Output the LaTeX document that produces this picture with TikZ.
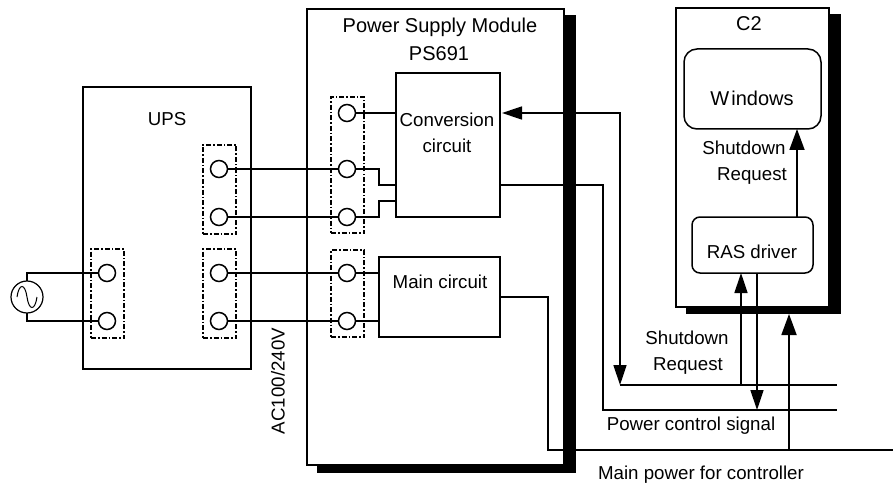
\documentclass[tikz,border=0pt]{standalone}
\usepackage{fontspec}
\setmainfont{Liberation Sans}
\usetikzlibrary{arrows.meta}
\tikzset{
    boxnode/.style={anchor=north west,draw,fill=white,line width=1.5pt,inner sep=0pt,outer sep=0pt},
    roundnode/.style={boxnode,rounded corners=#1},
    shadownode/.style={anchor=north west,fill=black,inner sep=0pt,outer sep=0pt},
    termnode/.style={circle,draw,line width=1.5pt,minimum size=17pt,inner sep=0pt,outer sep=0pt},
    blocknode/.style={anchor=north west,draw,dash pattern=on 5pt off 2pt on 1.5pt off 2pt,line width=1.4pt,inner sep=0pt,outer sep=0pt},
    txt/.style={inner sep=0pt,font=\fontsize{18.7}{20}\selectfont},
    bigtxt/.style={inner sep=0pt,font=\fontsize{20}{22}\selectfont},
    wire/.style={line width=1.5pt},
    powerwire/.style={line width=2.1pt},
    headline/.style={line width=1.8pt,-{Triangle[length=21pt,width=15pt]}},
}
\begin{document}
\begin{tikzpicture}[x=1pt,y=-1pt]
    \useasboundingbox (0,0) rectangle (893,489);
    %% shadows
    \node[shadownode,minimum width=259pt,minimum height=458pt] (psshadow) at (317,15) {};
    \node[shadownode,minimum width=155pt,minimum height=300pt] (ctwoshadow) at (686,14) {};
    %% UPS/PS691/C2
    \node[boxnode,minimum width=168pt,minimum height=282pt] (ups) at (83,87) {};
    \node[boxnode,minimum width=257pt,minimum height=456pt] (ps) at (307,9) {};
    \node[boxnode,minimum width=153pt,minimum height=299pt] (ctwo) at (676,8) {};
    \node[boxnode,minimum width=104pt,minimum height=144pt] (conv) at (396,73) {};
    \node[boxnode,minimum width=121pt,minimum height=80pt] (main) at (379,257) {};
    \node[roundnode=13pt,minimum width=137pt,minimum height=80pt] (win) at (684,49) {};
    \node[roundnode=8pt,minimum width=121pt,minimum height=56pt] (ras) at (692,217) {};
    %% terminal blocks
    \node[blocknode,minimum width=33pt,minimum height=89pt] (blockin) at (91,249) {};
    \node[blocknode,minimum width=33pt,minimum height=89pt] (blockoutA) at (203,145) {};
    \node[blocknode,minimum width=33pt,minimum height=89pt] (blockoutB) at (203,249) {};
    \node[blocknode,minimum width=33pt,minimum height=136pt] (blockconv) at (331,97) {};
    \node[blocknode,minimum width=33pt,minimum height=87pt] (blockmain) at (331,250) {};
    %% terminals
    \node[termnode] (inA) at (107,273) {};
    \node[termnode] (inB) at (107,321) {};
    \node[termnode] (outA) at (219,169) {};
    \node[termnode] (outB) at (219,217) {};
    \node[termnode] (outC) at (219,273) {};
    \node[termnode] (outD) at (219,321) {};
    \node[termnode] (convT) at (347,113) {};
    \node[termnode] (convA) at (347,169) {};
    \node[termnode] (convB) at (347,217) {};
    \node[termnode] (mainA) at (347,273) {};
    \node[termnode] (mainB) at (347,321) {};
    %% AC source
    \node[circle,draw,line width=1.2pt,minimum size=32pt,inner sep=0pt,outer sep=0pt] (src) at (27,297) {};
    \draw[line width=1pt] (17,297) .. controls (19,283) and (25,283) .. (27,297) .. controls (29,311) and (35,311) .. (37,297);
    %% free ends
    \coordinate (downA) at (620,385);
    \coordinate (downB) at (603,410);
    \coordinate (powerC) at (548,450);
    \coordinate (endA) at (837,385);
    \coordinate (endB) at (837,410);
    \coordinate (endC) at (893,450);
    \coordinate (shutup) at (741,385);
    \coordinate (ctrlsig) at (757,410);
    \coordinate (feed) at (789,450);
    %% wiring
    \draw[wire] (src.north) -- (27,273) -- (inA);
    \draw[wire] (src.south) -- (27,321) -- (inB);
    \draw[wire] (outA) -- (convA);
    \draw[wire] (outB) -- (convB);
    \draw[wire] (outC) -- (mainA);
    \draw[wire] (outD) -- (mainB);
    \draw[wire] (convT) -- (conv.west |- convT);
    \draw[wire] (convA) -- (379,169) -- (379,185) -- (396,185);
    \draw[wire] (convB) -- (379,217) -- (379,201) -- (396,201);
    \draw[wire] (mainA) -- (main.west |- mainA);
    \draw[wire] (mainB) -- (main.west |- mainB);
    \draw[wire] (conv.east |- 0,185) -| (downB) -- (endB);
    \draw[wire,{Triangle[length=20pt,width=13pt]}-{Triangle[length=20pt,width=13pt]},shorten <=2pt] (conv.east |- convT) -| (downA);
    \draw[wire] (downA) -- (endA);
    \draw[powerwire] (main.east |- 0,297) -| (powerC) -- (endC);
    \draw[wire,-{Triangle[length=20pt,width=13pt]}] (shutup) -- (shutup |- ras.south);
    \draw[wire,-{Triangle[length=20pt,width=13pt]}] (ras.south -| ctrlsig) -- (ctrlsig);
    \draw[headline] (feed) -- (feed |- ctwoshadow.south);
    \draw[headline] (ras.north -| 797,0) -- (win.south -| 797,0);
    %% labels
    \node[txt] (upslabel) at (167,119) {UPS};
    \node[bigtxt] (pslabel) at (440,27) {Power Supply Module};
    \node[bigtxt] (pslabelB) at (439,54) {PS691};
    \node[bigtxt] (ctwolabel) at (749,24) {C2};
    \node[txt] (convlabel) at (447,120) {Conversion};
    \node[txt] (convlabelB) at (447,146) {circuit};
    \node[txt] (mainlabel) at (440,282) {Main circuit};
    \node[bigtxt] (winlabel) at (752,98) {W\kern2pt indows};
    \node[txt] (raslabel) at (752,252) {RAS driver};
    \node[txt] (reqlabel) at (744,148) {Shutdown};
    \node[txt] (reqlabelB) at (752,176) {Request};
    \node[txt] (shutlabel) at (687,338) {Shutdown};
    \node[txt] (shutlabelB) at (688,366) {Request};
    \node[txt] (ctrllabel) at (691,426) {Power control signal};
    \node[txt] (powerlabel) at (701,475) {Main power for controller};
    \node[txt,rotate=90] (aclabel) at (278,381) {AC100/240V};
\end{tikzpicture}
\end{document}
